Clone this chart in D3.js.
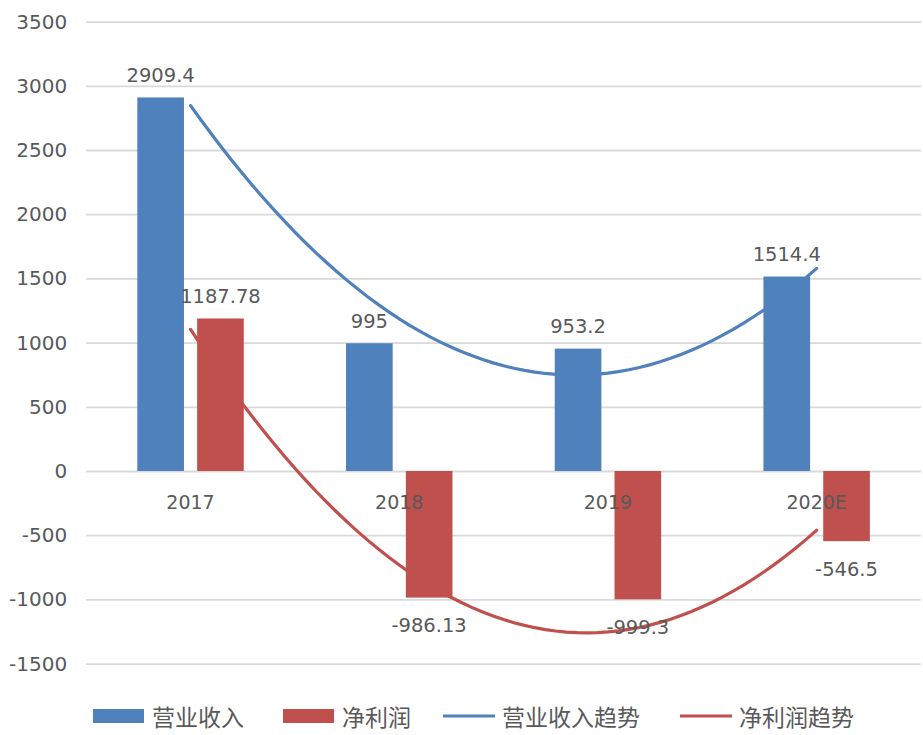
<!DOCTYPE html>
<html>
<head>
<meta charset="utf-8">
<script src="https://cdn.jsdelivr.net/npm/d3@7"></script>
<style>
  body { margin: 0; background: #fff; }
  text { font-family: "DejaVu Sans", sans-serif; fill: #595959; }
  .legend text { font-family: "Noto Sans CJK SC", sans-serif; }
</style>
</head>
<body>
<div id="chart"></div>
<script>
// data
const categories = ["2017", "2018", "2019", "2020E"];
const revenue = [2909.4, 995, 953.2, 1514.4];
const netProfit = [1187.78, -986.13, -999.3, -546.5];
const yTicks = [-1500, -1000, -500, 0, 500, 1000, 1500, 2000, 2500, 3000, 3500];
const seriesNames = ["营业收入", "净利润", "营业收入趋势", "净利润趋势"];

const blue = "#4F81BD";
const red = "#C0504D";

let dimensions = {
    width: 923,
    height: 735,
    margin: { top: 21.6, right: 2, bottom: 71.4, left: 86.2 }
}
dimensions.boundedWidth = dimensions.width - dimensions.margin.left - dimensions.margin.right;
dimensions.boundedHeight = dimensions.height - dimensions.margin.top - dimensions.margin.bottom;

const svg = d3.select("#chart").append("svg")
    .attr("width", dimensions.width)
    .attr("height", dimensions.height)

//SCALES
const yScale = d3.scaleLinear()
    .domain([-1500, 3500])
    .range([dimensions.margin.top + dimensions.boundedHeight, dimensions.margin.top])

const x0 = d3.scaleBand()
    .domain(categories)
    .range([dimensions.margin.left, dimensions.margin.left + dimensions.boundedWidth])

const x1 = d3.scaleBand()
    .domain(["rev", "np"])
    .range([x0.bandwidth() * 0.245, x0.bandwidth() * 0.755])
    .paddingInner(0.22)

//GRIDLINES + Y LABELS
const yAxis = svg.append("g")
    .attr("transform", `translate(${dimensions.margin.left},0)`)
    .call(d3.axisLeft(yScale).tickValues(yTicks).tickFormat(d => String(d))
        .tickSize(-dimensions.boundedWidth).tickPadding(19))
yAxis.select(".domain").remove()
yAxis.selectAll(".tick line").attr("stroke", "#d9d9d9").attr("stroke-width", 1.8)
yAxis.selectAll(".tick text")
    .attr("font-size", "20px")
    .attr("fill", "#595959")
    .style("font-family", "DejaVu Sans, sans-serif")

//BARS
const rows = categories.map((c, i) => ({ cat: c, rev: revenue[i], np: netProfit[i] }))

const groups = svg.selectAll(".grp")
    .data(rows)
    .enter()
    .append("g")
    .attr("class", "grp")
    .attr("transform", d => `translate(${x0(d.cat)},0)`)

const keys = [{ key: "rev", color: blue }, { key: "np", color: red }]
keys.forEach(k => {
    groups.append("rect")
        .attr("x", x1(k.key))
        .attr("width", x1.bandwidth())
        .attr("y", d => yScale(Math.max(0, d[k.key])))
        .attr("height", d => Math.abs(yScale(d[k.key]) - yScale(0)))
        .attr("fill", k.color)
})

//CATEGORY LABELS
svg.append("g").selectAll("text")
    .data(categories)
    .enter()
    .append("text")
    .attr("x", d => x0(d) + x0.bandwidth() / 2)
    .attr("y", yScale(0) + 31)
    .attr("text-anchor", "middle")
    .attr("dominant-baseline", "central")
    .attr("font-size", "19px")
    .text(d => d)

//TREND LINES (2nd order polynomial fit, same as the spreadsheet trendline)
function polyFit(values) {
    // orthogonal basis on x = 1..n
    const xs = values.map((v, i) => i + 1);
    const xm = d3.mean(xs);
    const t = xs.map(x => x - xm);
    const t2m = d3.mean(t, v => v * v);
    const q = t.map(v => v * v - t2m);
    const a0 = d3.mean(values);
    const a1 = d3.sum(values, (v, i) => v * t[i]) / d3.sum(t, v => v * v);
    const a2 = d3.sum(values, (v, i) => v * q[i]) / d3.sum(q, v => v * v);
    return x => a0 + a1 * (x - xm) + a2 * ((x - xm) * (x - xm) - t2m);
}

const xTrend = d3.scaleLinear()
    .domain([1, categories.length])
    .range([x0(categories[0]) + x0.bandwidth() / 2, x0(categories[categories.length - 1]) + x0.bandwidth() / 2])

const samples = d3.range(0, 61).map(i => 1 + i * (categories.length - 1) / 60)
const lineGen = d3.line().x(d => xTrend(d[0])).y(d => yScale(d[1]))

;[[revenue, blue], [netProfit, red]].forEach(([vals, color]) => {
    const f = polyFit(vals)
    svg.append("path")
        .datum(samples.map(x => [x, f(x)]))
        .attr("d", lineGen)
        .attr("fill", "none")
        .attr("stroke", color)
        .attr("stroke-width", 3.2)
        .attr("stroke-linecap", "round")
})

//DATA LABELS
keys.forEach(k => {
    svg.append("g").selectAll("text")
        .data(rows)
        .enter()
        .append("text")
        .attr("x", d => x0(d.cat) + x1(k.key) + x1.bandwidth() / 2)
        .attr("y", d => d[k.key] >= 0 ? yScale(d[k.key]) - 22 : yScale(d[k.key]) + 28)
        .attr("text-anchor", "middle")
        .attr("dominant-baseline", "central")
        .attr("font-size", "19.5px")
        .attr("fill", "#404040")
        .text(d => d[k.key])
})

//LEGEND
const legendX = [93, 283, 443, 680]
const legend = svg.append("g").attr("class", "legend")
seriesNames.forEach((name, i) => {
    const g = legend.append("g").attr("transform", `translate(${legendX[i]},716)`)
    const color = i % 2 === 0 ? blue : red
    if (i < 2) {
        g.append("rect").attr("x", 0).attr("y", -7).attr("width", 51).attr("height", 14).attr("fill", color)
    } else {
        g.append("line").attr("x1", 0).attr("x2", 52).attr("y1", 0).attr("y2", 0)
            .attr("stroke", color).attr("stroke-width", 3.2)
    }
    g.append("text")
        .attr("x", 59)
        .attr("y", 0)
        .attr("dominant-baseline", "central")
        .attr("font-size", "23px")
        .text(name)
})
</script>
</body>
</html>
